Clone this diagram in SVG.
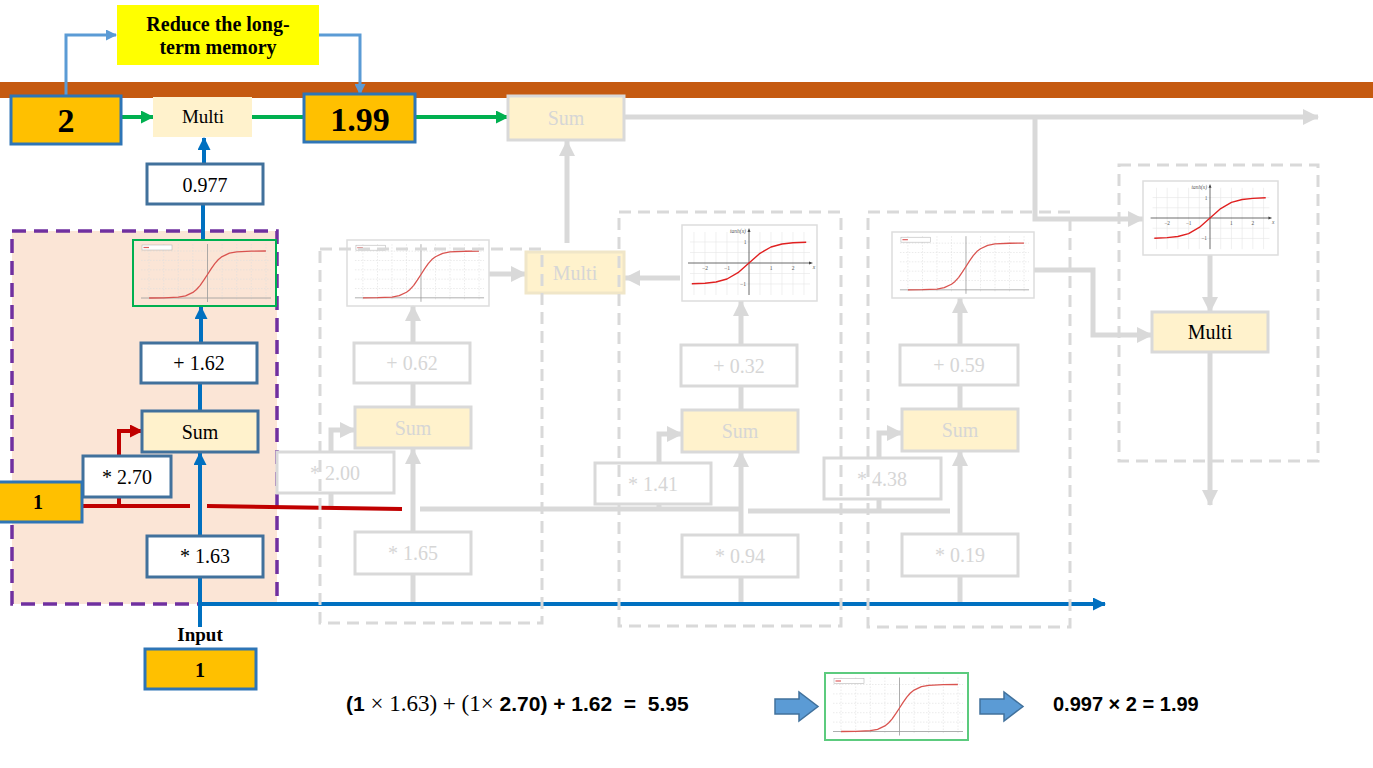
<svg xmlns="http://www.w3.org/2000/svg" xmlns:xlink="http://www.w3.org/1999/xlink" width="1373" height="768" viewBox="0 0 1373 768">
<style>
.t{font-family:"Liberation Serif","Times New Roman",serif;font-size:20px;text-anchor:middle;fill:#000}
.tb{font-weight:bold}
.big{font-size:34px}
.s19{font-size:19px}
.ft{fill:#D6D6D6}
.wb{fill:#fff;stroke:#41719C;stroke-width:3}
.ob{fill:#FFC000;stroke:#2E75B6;stroke-width:3}
.yb{fill:#FFF2CC;stroke:#41719C;stroke-width:3}
.fb{fill:#fff;stroke:#D9D9D9;stroke-width:3}
.fy{fill:#FFF2CC;stroke:#D9D9D9;stroke-width:3}
.gd{fill:none;stroke:#D9D9D9;stroke-width:3;stroke-dasharray:12 7}
.blue{fill:none;stroke:#0070C0;stroke-width:4}
.grn{fill:none;stroke:#00B050;stroke-width:4}
.lb{fill:none;stroke:#5B9BD5;stroke-width:3}
.red{fill:none;stroke:#C00000;stroke-width:4}
.gry{fill:none;stroke:#D9D9D9;stroke-width:5}
.eq{font-family:"Liberation Sans",Arial,sans-serif;font-size:20px;font-weight:bold;fill:#000;white-space:pre}
.eq1{font-size:21px}
.eqm{font-family:"Liberation Serif","Times New Roman",serif;font-weight:normal;font-size:23px}
.tk{font-family:"Liberation Serif",serif;font-size:5.5px;fill:#555;text-anchor:middle}
</style>
<defs>
<marker id="aB" markerUnits="userSpaceOnUse" markerWidth="13" markerHeight="13" refX="12" refY="6.5" orient="auto"><path d="M0,0 L13,6.5 L0,13 z" fill="#0070C0"/></marker>
<marker id="aG" markerUnits="userSpaceOnUse" markerWidth="13" markerHeight="13" refX="12" refY="6.5" orient="auto"><path d="M0,0 L13,6.5 L0,13 z" fill="#00B050"/></marker>
<marker id="aL" markerUnits="userSpaceOnUse" markerWidth="11" markerHeight="11" refX="10" refY="5.5" orient="auto"><path d="M0,0 L11,5.5 L0,11 z" fill="#5B9BD5"/></marker>
<marker id="aR" markerUnits="userSpaceOnUse" markerWidth="13" markerHeight="13" refX="12" refY="6.5" orient="auto"><path d="M0,0 L13,6.5 L0,13 z" fill="#C00000"/></marker>
<marker id="aY" markerUnits="userSpaceOnUse" markerWidth="16" markerHeight="16" refX="15" refY="8" orient="auto"><path d="M0,0 L16,8 L0,16 z" fill="#D9D9D9"/></marker>
<symbol id="sig" viewBox="0 0 143 66">
<g stroke="#dedede" stroke-width="0.6" stroke-dasharray="1.5 1.5" fill="none">
<path d="M16,4V60M30.7,4V60M45.3,4V60M59.9,4V60M89.1,4V60M103.7,4V60M118.3,4V60M133,4V60"/>
<path d="M8,11H138M8,20.4H138M8,29.8H138M8,39.2H138M8,48.6H138"/>
</g>
<path d="M8,58H138M74.5,62V4" stroke="#999" stroke-width="0.8" fill="none"/>
<rect x="9" y="5" width="30" height="5" fill="#fff" stroke="#aaa" stroke-width="0.5"/>
<path d="M10.5,7.5H16" stroke="#E06060" stroke-width="1.2"/>
<path d="M16.1,58 L30.7,57.9 L45.3,57.2 L52.6,55.8 L59.9,52.4 L63.5,49.5 L67.2,45.4 L70.8,40.2 L74.5,34.5 L78.1,28.8 L81.8,23.6 L85.4,19.5 L89.1,16.6 L96.4,13.2 L103.7,11.8 L118.3,11.1 L132.9,11" fill="none" stroke="#D9534F" stroke-width="1.3" stroke-linejoin="round"/>
</symbol>
<symbol id="tanh" viewBox="0 0 135 76">
<g stroke="#e6e6e6" stroke-width="0.6" fill="none">
<path d="M12,7V70M23,7V70M34,7V70M45,7V70M56,7V70M78,7V70M89,7V70M100,7V70M111,7V70M122,7V70"/>
<path d="M8,17H128M8,27.5H128M8,48.5H128M8,59H128"/>
</g>
<path d="M6,38H129M67,70V5" stroke="#444" stroke-width="0.8" fill="none"/>
<path d="M131,38 L127,36.5 L127,39.5z M67,3 L65.5,7 L68.5,7z" fill="#444"/>
<path d="M9.8,58.8 L23,58.2 L34,57 L45,54 L56,47.7 L67,38 L78,28.3 L89,22 L100,19 L111,17.8 L124.2,17.2" fill="none" stroke="#E02020" stroke-width="1.4" stroke-linejoin="round"/>
<text class="tk" x="23" y="45">−2</text><text class="tk" x="45" y="45">−1</text><text class="tk" x="89" y="45">1</text><text class="tk" x="111" y="45">2</text>
<text class="tk" x="63" y="19">1</text><text class="tk" x="61" y="61">−1</text>
<text class="tk" x="56" y="8" font-style="italic">tanh(x)</text><text class="tk" x="132" y="44" font-style="italic">x</text>
</symbol>
</defs>
<rect width="1373" height="768" fill="#fff"/>
<rect x="0" y="82" width="1373" height="16" fill="#C55A11"/>
<g id="cell1-area"><rect x="12" y="231" width="265" height="373" fill="#FBE5D6" stroke="#7030A0" stroke-width="3.5" stroke-dasharray="14 8"/></g>
<g id="connectors">
<path class="lb" d="M66,95V35H116" marker-end="url(#aL)"/>
<path class="lb" d="M319,35H360V94" marker-end="url(#aL)"/>
<path class="grn" d="M122,117H153" marker-end="url(#aG)"/>
<path class="grn" d="M252,117H304"/>
<path class="grn" d="M416,117H508" marker-end="url(#aG)"/>
<path class="gry" d="M624,117H1318" marker-end="url(#aY)"/>
<path class="gry" d="M1035,117V219H1143" marker-end="url(#aY)"/>
<path class="gry" d="M567,243V141" marker-end="url(#aY)"/>
<path class="gry" d="M489,274H526" marker-end="url(#aY)"/>
<path class="gry" d="M680,278H625" marker-end="url(#aY)"/>
<path class="gry" d="M1034,270H1093V335H1152" marker-end="url(#aY)"/>
<path class="gry" d="M1210,255V312" marker-end="url(#aY)"/>
<path class="gry" d="M1210,352V505" marker-end="url(#aY)"/>
<path class="gry" d="M413,604V574M413,407V383"/>
<path class="gry" d="M413,532V449" marker-end="url(#aY)"/>
<path class="gry" d="M413,343V306" marker-end="url(#aY)"/>
<path class="gry" d="M331,452V430H355" marker-end="url(#aY)"/>
<path class="gry" d="M741,604V577M741,410V386"/>
<path class="gry" d="M741,535V452" marker-end="url(#aY)"/>
<path class="gry" d="M741,345V301" marker-end="url(#aY)"/>
<path class="gry" d="M659,463V434H682" marker-end="url(#aY)"/>
<path class="gry" d="M960,604V576M960,409V385"/>
<path class="gry" d="M960,534V451" marker-end="url(#aY)"/>
<path class="gry" d="M960,345V298" marker-end="url(#aY)"/>
<path class="gry" d="M879,458V433H902" marker-end="url(#aY)"/>
<path class="gry" d="M420,509H740M748,511H950M331,493V508M659,504V509M879,499V511"/>
<path class="red" d="M82,506H190M207,506L402,509"/>
<path class="red" d="M119,506V431H142" marker-end="url(#aR)"/>
<path class="blue" d="M200,627V577M200,411V383M203,240V204"/>
<path class="blue" d="M200,536V453" marker-end="url(#aB)"/>
<path class="blue" d="M201,343V307" marker-end="url(#aB)"/>
<path class="blue" d="M204,164V138" marker-end="url(#aB)"/>
<path class="blue" d="M199,604H1105" marker-end="url(#aB)"/>
</g>
<g id="reduce"><rect x="117" y="5" width="202" height="60" fill="#FFFF00"/><text class="t tb" x="218" y="31">Reduce the long-</text><text class="t tb" x="218" y="54">term memory</text></g>
<g id="ltm-in"><rect class="ob" x="11" y="96" width="110" height="48"/><text class="t tb big" x="66" y="132">2</text></g>
<g id="multi1"><rect x="153" y="97" width="99" height="40" fill="#FFF2CC"/><text class="t s19" x="203" y="123">Multi</text></g>
<g id="ltm-out"><rect class="ob" x="304" y="94" width="111" height="48"/><text class="t tb big" x="360" y="131">1.99</text></g>
<g id="w0977"><rect class="wb" x="147" y="164" width="116" height="40"/><text class="t" x="205" y="192">0.977</text></g>
<g id="sig1"><use href="#sig" x="133" y="240" width="143" height="66"/><rect x="133" y="240" width="143" height="66" fill="none" stroke="#00B050" stroke-width="2"/></g>
<g id="b162"><rect class="wb" x="141" y="343" width="116" height="40"/><text class="t" x="199" y="370">+ 1.62</text></g>
<g id="sum1"><rect class="yb" x="142" y="411" width="116" height="41"/><text class="t" x="200" y="439">Sum</text></g>
<g id="w270"><rect class="wb" x="83" y="456" width="88" height="41"/><text class="t" x="127" y="484">* 2.70</text></g>
<g id="stm"><rect class="ob" x="-4" y="482" width="86" height="40"/><text class="t tb" x="38" y="509">1</text></g>
<g id="w163"><rect class="wb" x="147" y="536" width="116" height="41"/><text class="t" x="205" y="563">* 1.63</text></g>
<g id="input"><text class="t tb s19" x="200" y="641">Input</text><rect class="ob" x="145" y="649" width="111" height="40"/><text class="t tb" x="200" y="677">1</text></g>
<g id="sum-ltm"><rect class="fy" x="508" y="96" width="116" height="44"/><text class="t ft" x="566" y="125">Sum</text></g>
<g id="multi2"><rect class="fy" x="526" y="252" width="98" height="41" style="stroke:#F0E6C8"/><text class="t ft" x="575" y="280">Multi</text></g>
<g id="sig2"><use href="#sig" x="347" y="240" width="142" height="66"/><rect x="347" y="240" width="142" height="66" fill="none" stroke="#DDDDDD" stroke-width="1.5"/></g>
<g id="tanh1"><rect x="682" y="225" width="135" height="76" fill="#fff" stroke="#DDDDDD" stroke-width="1.5"/><use href="#tanh" x="682" y="225" width="135" height="76"/></g>
<g id="sig4"><use href="#sig" x="892" y="232" width="142" height="66"/><rect x="892" y="232" width="142" height="66" fill="none" stroke="#DDDDDD" stroke-width="1.5"/></g>
<g id="tanh2"><rect x="1143" y="181" width="135" height="74" fill="#fff" stroke="#DDDDDD" stroke-width="1.5"/><use href="#tanh" x="1143" y="181" width="135" height="74"/></g>
<g id="multi3"><rect class="fy" x="1152" y="312" width="116" height="40"/><text class="t" x="1210" y="339">Multi</text></g>
<g id="b062"><rect class="fb" x="354" y="343" width="116" height="40"/><text class="t ft" x="412" y="370">+ 0.62</text></g>
<g id="sum2"><rect class="fy" x="355" y="407" width="116" height="41"/><text class="t ft" x="413" y="435">Sum</text></g>
<g id="w200"><rect class="fb" x="277" y="452" width="117" height="41"/><text class="t ft" x="335" y="480">* 2.00</text></g>
<g id="w165"><rect class="fb" x="355" y="532" width="116" height="42"/><text class="t ft" x="413" y="560">* 1.65</text></g>
<g id="b032"><rect class="fb" x="681" y="345" width="116" height="41"/><text class="t ft" x="739" y="373">+ 0.32</text></g>
<g id="sum3"><rect class="fy" x="682" y="410" width="116" height="42"/><text class="t ft" x="740" y="438">Sum</text></g>
<g id="w141"><rect class="fb" x="595" y="463" width="116" height="41"/><text class="t ft" x="653" y="491">* 1.41</text></g>
<g id="w094"><rect class="fb" x="682" y="535" width="116" height="42"/><text class="t ft" x="740" y="563">* 0.94</text></g>
<g id="b059"><rect class="fb" x="900" y="345" width="118" height="40"/><text class="t ft" x="959" y="372">+ 0.59</text></g>
<g id="sum4"><rect class="fy" x="902" y="409" width="116" height="42"/><text class="t ft" x="960" y="437">Sum</text></g>
<g id="w438"><rect class="fb" x="824" y="458" width="117" height="41"/><text class="t ft" x="882" y="486">* 4.38</text></g>
<g id="w019"><rect class="fb" x="902" y="534" width="116" height="42"/><text class="t ft" x="960" y="562">* 0.19</text></g>
<g id="containers">
<rect class="gd" x="320" y="249" width="222" height="374"/>
<rect class="gd" x="619" y="212" width="222" height="414"/>
<rect class="gd" x="868" y="212" width="202" height="415"/>
<rect class="gd" x="1119" y="165" width="199" height="296"/>
</g>
<g id="equation">
<text class="eq eq1" x="346" y="711">(1<tspan class="eqm"> × 1.63) + (1×</tspan> 2.70) + 1.62  =  5.95</text>
<path d="M775,699H799V692L818,706.5L799,721V714H775Z" fill="#5B9BD5" stroke="#41719C" stroke-width="1.5"/>
<g id="sig-bottom"><use href="#sig" x="825" y="673" width="143" height="67"/><rect x="825" y="673" width="143" height="67" fill="none" stroke="#5CCB7E" stroke-width="2"/></g>
<path d="M980,699H1004V692L1023,706.5L1004,721V714H980Z" fill="#5B9BD5" stroke="#41719C" stroke-width="1.5"/>
<text class="eq" x="1053" y="711">0.997 × 2 = 1.99</text>
</g>
</svg>
